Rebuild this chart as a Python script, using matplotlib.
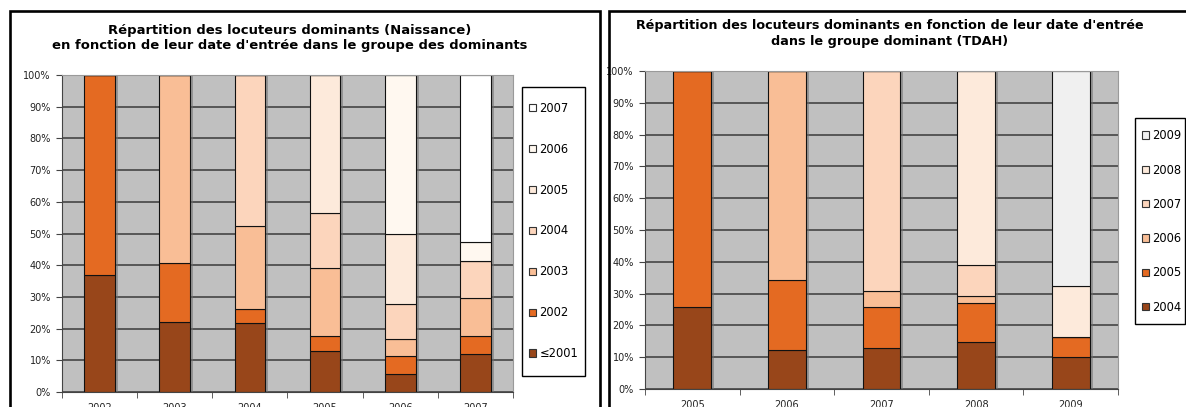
import matplotlib
matplotlib.use('Agg')
import matplotlib.pyplot as plt
import matplotlib.patches as mpatches
import matplotlib.transforms as mtransforms
import numpy as np

"""Daten - linke Grafik (Naissance)"""
left_cats = ['2002', '2003', '2004', '2005', '2006', '2007']
left_labels = ['≤2001', '2002', '2003', '2004', '2005', '2006', '2007']
left_le2001 = [36.9, 22.0, 21.7, 13.0, 5.7, 12.0]
left_2002 = [63.1, 18.6, 4.6, 4.7, 5.8, 5.7]
left_2003 = [0, 59.4, 26.1, 21.3, 5.2, 11.9]
left_2004 = [0, 0, 47.6, 17.4, 11.0, 11.7]
left_2005 = [0, 0, 0, 43.6, 22.2, 0]
left_2006 = [0, 0, 0, 0, 50.1, 5.9]
left_2007 = [0, 0, 0, 0, 0, 52.8]

"""Daten - rechte Grafik (TDAH)"""
right_cats = ['2005', '2006', '2007', '2008', '2009']
right_labels = ['2004', '2005', '2006', '2007', '2008', '2009']
right_2004 = [25.7, 12.3, 12.9, 14.9, 10.1]
right_2005 = [74.3, 22.0, 12.8, 12.2, 6.3]
right_2006 = [0, 65.7, 5.2, 2.2, 0]
right_2007 = [0, 0, 69.1, 9.7, 0]
right_2008 = [0, 0, 0, 61.0, 16.0]
right_2009 = [0, 0, 0, 0, 67.6]

titles = ["Répartition des locuteurs dominants (Naissance)\n"
          "en fonction de leur date d'entrée dans le groupe des dominants",
          "Répartition des locuteurs dominants en fonction de leur date d'entrée\n"
          "dans le groupe dominant (TDAH)"]

# Farben
brown = '#98461a'
orange = '#e46a22'
left_colors = [brown, orange, '#f9be96', '#fcd5bc', '#fdeadb', '#fff8f0', '#ffffff']
right_colors = [brown, orange, '#f9be96', '#fcd5bc', '#fdeadb', '#f0f0f0']

plt.rcParams['font.family'] = ['DejaVu Sans']
W, H = 1186, 407
fig = plt.figure(figsize=(W / 100, H / 100), dpi=100)


def px_axes(x0, y0, x1, y1):
    # Pixelkoordinaten (von oben) -> Figure-Anteile
    return fig.add_axes([x0 / W, 1 - y1 / H, (x1 - x0) / W, (y1 - y0) / H])


def px_box(x0, y0, x1, y1, lw):
    # Rahmen in Pixelkoordinaten
    fig.patches.append(mpatches.Rectangle((x0 / W, 1 - y1 / H), (x1 - x0) / W, (y1 - y0) / H,
                                          fill=False, lw=lw, ec='black', transform=fig.transFigure))


def stacked(ax, cats, series, labels, colors, bar_w):
    x = np.arange(len(cats))
    total = np.sum(series, axis=0)
    shadow = ax.transData + mtransforms.ScaledTranslation(3 / 100, 0, fig.dpi_scale_trans)
    ax.bar(x, total, bar_w, color='#707070', alpha=0.55, lw=0, zorder=1, transform=shadow)
    bottom = np.zeros(len(cats))
    handles = []
    for vals, lab, col in zip(series, labels, colors):
        ax.bar(x, vals, bar_w, bottom=bottom, color=col, edgecolor='#111111', lw=0.8, zorder=2)
        bottom += np.array(vals)
        handles.append(mpatches.Patch(facecolor=col, edgecolor='#333333', lw=0.8, label=lab))

    ax.set_facecolor('#c0c0c0')
    ax.set_xlim(-0.5, len(cats) - 0.5)
    ax.set_ylim(0, 100)
    ax.set_yticks(range(0, 101, 10))
    ax.set_yticklabels(['%d%%' % v for v in range(0, 101, 10)])
    ax.set_xticks(x)
    ax.set_xticklabels(cats)
    ax.set_xticks(np.arange(len(cats) + 1) - 0.5, minor=True)
    ax.tick_params(axis='x', which='major', length=0, pad=8, labelsize=7, labelcolor='#222222')
    ax.tick_params(axis='x', which='minor', length=4, direction='out', color='#444444')
    ax.tick_params(axis='y', length=4, pad=4, labelsize=7, labelcolor='#222222', color='#444444')
    ax.grid(axis='y', color='#3a3a3a', lw=1.1, zorder=0.5)
    ax.set_axisbelow(True)
    for s in ['top', 'right']:
        ax.spines[s].set_color('#9a9a9a')
    for s in ['left', 'bottom']:
        ax.spines[s].set_color('#444444')
    return handles[::-1], labels[::-1]


"""Linke Grafik"""
ax1 = px_axes(62, 75, 513, 392)
h1, l1 = stacked(ax1, left_cats,
                 [left_le2001, left_2002, left_2003, left_2004, left_2005, left_2006, left_2007],
                 left_labels, left_colors, 0.41)
fig.legend(h1, l1, loc='center left', bbox_to_anchor=(529 / W, 1 - 231 / H), fontsize=8.3,
           handlelength=0.6, handleheight=0.6, handletextpad=0.3, labelspacing=2.42,
           borderpad=0, borderaxespad=0, frameon=False)
px_box(522, 87, 585, 376, 1.0)
fig.text(290 / W, 1 - 38 / H, titles[0], ha='center', va='center', fontsize=9.45,
         fontweight='bold', linespacing=1.25)

"""Rechte Grafik"""
ax2 = px_axes(645, 71, 1118, 389)
h2, l2 = stacked(ax2, right_cats,
                 [right_2004, right_2005, right_2006, right_2007, right_2008, right_2009],
                 right_labels, right_colors, 0.40)
fig.legend(h2, l2, loc='center left', bbox_to_anchor=(1142 / W, 1 - 221.5 / H), fontsize=8.3,
           handlelength=0.6, handleheight=0.6, handletextpad=0.3, labelspacing=1.85,
           borderpad=0, borderaxespad=0, frameon=False)
px_box(1135, 118, 1185, 324, 1.0)
fig.text(890 / W, 1 - 34 / H, titles[1], ha='center', va='center', fontsize=9.15,
         fontweight='bold', linespacing=1.3)

# Rahmen der beiden Diagramme
px_box(10, 11, 600, 450, 1.9)
px_box(609, 11, 1300, 450, 1.9)

plt.savefig('out.png', dpi=100)
